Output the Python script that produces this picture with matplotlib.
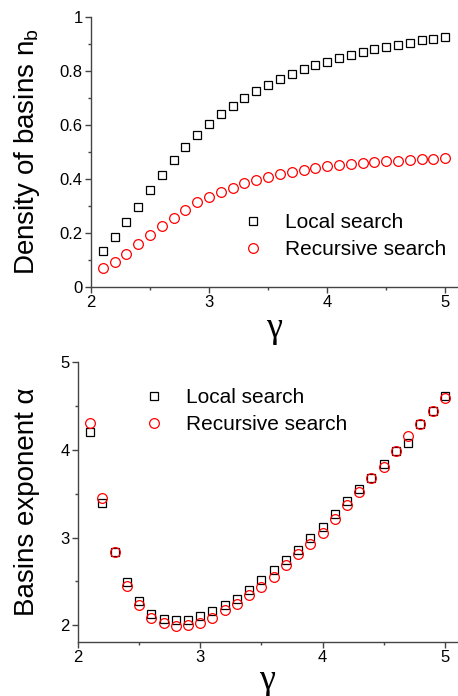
import numpy as np
import matplotlib
matplotlib.use("Agg")
import matplotlib.pyplot as plt
from matplotlib.ticker import MultipleLocator

plt.rcParams['font.family'] = ['Liberation Sans', 'DejaVu Sans']

gamma = [2.1, 2.2, 2.3, 2.4, 2.5, 2.6, 2.7, 2.8, 2.9, 3.0,
         3.1, 3.2, 3.3, 3.4, 3.5, 3.6, 3.7, 3.8, 3.9, 4.0,
         4.1, 4.2, 4.3, 4.4, 4.5, 4.6, 4.7, 4.8, 4.9, 5.0]

density_local = [0.135, 0.185, 0.240, 0.298, 0.360, 0.416, 0.470, 0.520, 0.564, 0.603,
                 0.640, 0.672, 0.701, 0.727, 0.750, 0.771, 0.789, 0.807, 0.821, 0.835,
                 0.849, 0.860, 0.872, 0.881, 0.889, 0.898, 0.905, 0.913, 0.919, 0.925]
density_recursive = [0.070, 0.094, 0.123, 0.158, 0.193, 0.227, 0.256, 0.284, 0.313, 0.333,
                     0.351, 0.368, 0.384, 0.397, 0.408, 0.419, 0.427, 0.435, 0.441, 0.447,
                     0.452, 0.457, 0.461, 0.463, 0.466, 0.468, 0.470, 0.473, 0.474, 0.477]

alpha_local = [4.20, 3.39, 2.84, 2.49, 2.28, 2.125, 2.068, 2.057, 2.057, 2.106,
               2.163, 2.228, 2.303, 2.406, 2.512, 2.626, 2.748, 2.854, 2.999, 3.12,
               3.264, 3.412, 3.557, 3.682, 3.842, 3.986, 4.081, 4.29, 4.438, 4.609]
alpha_recursive = [4.305, 3.454, 2.839, 2.444, 2.228, 2.087, 2.030, 1.992, 2.007, 2.030,
                   2.087, 2.171, 2.246, 2.349, 2.436, 2.550, 2.683, 2.809, 2.923, 3.052,
                   3.215, 3.374, 3.519, 3.678, 3.804, 3.986, 4.157, 4.29, 4.438, 4.594]

labels = ['Local search', 'Recursive search']

W, H = 458, 696
fig = plt.figure(figsize=(W / 100, H / 100), dpi=100)

def px_axes(l, t, r, b):
    return fig.add_axes([l / W, 1 - b / H, (r - l) / W, (b - t) / H])

ax1 = px_axes(91, 17, 457, 287)
ax2 = px_axes(78, 362, 457, 642)

spine_col = '#444444'

def style(ax):
    for s in ['top', 'right']:
        ax.spines[s].set_visible(False)
    for s in ['left', 'bottom']:
        ax.spines[s].set_color(spine_col)
        ax.spines[s].set_linewidth(1.0)
    ax.tick_params(which='major', direction='out', length=4, width=1, color=spine_col,
                   labelsize=12, pad=2)
    ax.tick_params(which='minor', direction='out', length=2, width=1, color=spine_col)
    ax.xaxis.set_major_locator(MultipleLocator(1))
    ax.xaxis.set_minor_locator(MultipleLocator(0.5))

sq = dict(marker='s', linestyle='none', markersize=6, markerfacecolor='none',
          markeredgecolor='black', markeredgewidth=0.9)
ci = dict(marker='o', linestyle='none', markersize=7, markerfacecolor='none',
          markeredgecolor='red', markeredgewidth=0.9)

leg_kw = dict(bbox_transform=fig.transFigure, frameon=False, fontsize=15,
              handlelength=2, handletextpad=0.55, labelspacing=0.38, borderpad=0,
              borderaxespad=0, loc='upper left')

# top panel
ax1.plot(gamma, density_local, label=labels[0], **sq)
ax1.plot(gamma, density_recursive, label=labels[1], **ci)
ax1.set_xlim(2, 5.1)
ax1.set_ylim(0, 1)
style(ax1)
ax1.yaxis.set_minor_locator(MultipleLocator(0.1))
ax1.set_yticks([0, 0.2, 0.4, 0.6, 0.8, 1.0])
ax1.set_yticklabels(['0', '0.2', '0.4', '0.6', '0.8', '1'])
ax1.set_ylabel('Density of basins n$_\\mathregular{b}$', fontsize=20, labelpad=12.5)
ax1.set_xlabel('γ', fontsize=26, family=['Liberation Serif', 'DejaVu Serif'], labelpad=1)
ax1.legend(bbox_to_anchor=(232 / W, 1 - 213 / H), **leg_kw)

# bottom panel
ax2.plot(gamma, alpha_local, label=labels[0], **sq)
ax2.plot(gamma, alpha_recursive, label=labels[1], **ci)
ax2.set_xlim(2, 5.1)
ax2.set_ylim(1.81, 5)
style(ax2)
ax2.yaxis.set_major_locator(MultipleLocator(1))
ax2.yaxis.set_minor_locator(MultipleLocator(0.5))
ax2.set_ylabel('Basins exponent α', fontsize=20, labelpad=14.5)
ax2.set_xlabel('γ', fontsize=26, family=['Liberation Serif', 'DejaVu Serif'], labelpad=-1)
ax2.legend(bbox_to_anchor=(133 / W, 1 - 388 / H), **leg_kw)

fig.savefig('out.png', dpi=100)
